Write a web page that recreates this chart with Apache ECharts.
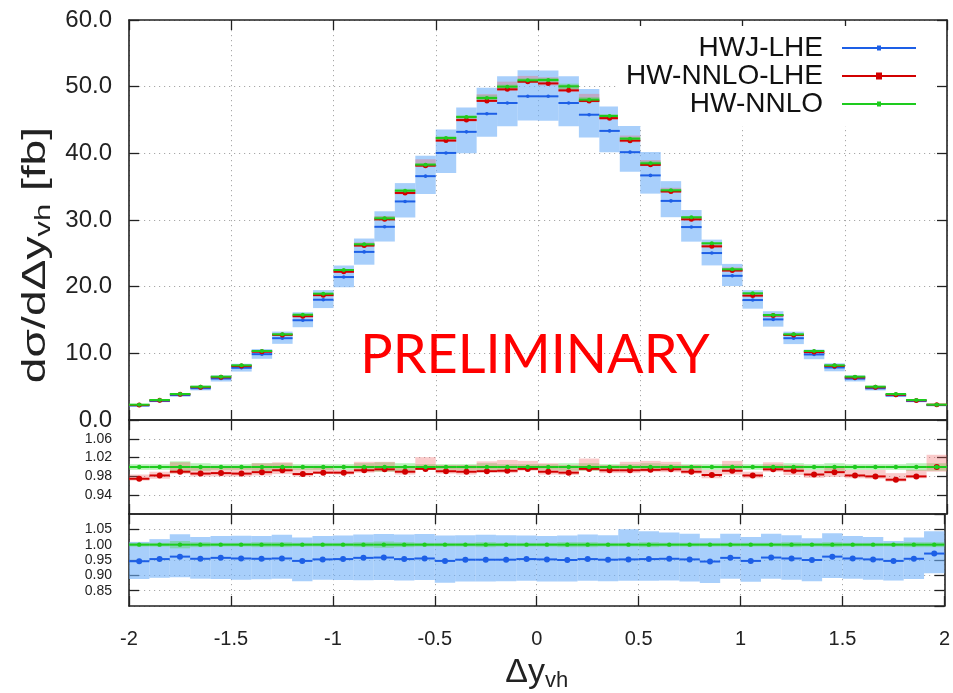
<!DOCTYPE html>
<html><head><meta charset="utf-8">
<script src="https://cdn.jsdelivr.net/npm/echarts@6/dist/echarts.min.js"></script>
<style>html,body{margin:0;padding:0;background:#fff}#c{width:953px;height:693px}</style>
</head><body><div id="c"></div>
<script>
// ---- data ----
const binLow  = [-2.0,-1.9,-1.8,-1.7,-1.6,-1.5,-1.4,-1.3,-1.2,-1.1,-1.0,-0.9,-0.8,-0.7,-0.6,-0.5,-0.4,-0.3,-0.2,-0.1,
                  0.0, 0.1, 0.2, 0.3, 0.4, 0.5, 0.6, 0.7, 0.8, 0.9, 1.0, 1.1, 1.2, 1.3, 1.4, 1.5, 1.6, 1.7, 1.8, 1.9];
const binHigh = [-1.9,-1.8,-1.7,-1.6,-1.5,-1.4,-1.3,-1.2,-1.1,-1.0,-0.9,-0.8,-0.7,-0.6,-0.5,-0.4,-0.3,-0.2,-0.1, 0.0,
                  0.1, 0.2, 0.3, 0.4, 0.5, 0.6, 0.7, 0.8, 0.9, 1.0, 1.1, 1.2, 1.3, 1.4, 1.5, 1.6, 1.7, 1.8, 1.9, 2.0];
// HW-NNLO  dσ/dΔy [fb]
const hwNnlo = [2.3,3.0,3.9,5.0,6.5,8.2,10.35,12.85,15.8,18.95,22.5,26.35,30.25,34.4,38.3,42.3,45.45,48.3,50.0,50.95,
                51.0,50.05,48.05,45.6,42.2,38.5,34.45,30.4,26.5,22.6,19.0,15.75,12.85,10.35,8.2,6.5,5.0,3.9,3.0,2.3];
// HW-NNLO-LHE / HW-NNLO
const ratioNnloLhe = [0.975,0.982,0.990,0.986,0.987,0.986,0.989,0.993,0.985,0.988,0.988,0.993,0.995,0.990,0.996,0.991,0.990,0.991,0.992,0.996,
                      0.990,0.988,0.996,0.993,0.993,0.994,0.995,0.990,0.983,0.992,0.982,0.995,0.992,0.984,0.989,0.982,0.980,0.973,0.980,1.000];
const nnloLheBandLo = [0.971,0.975,0.985,0.980,0.980,0.980,0.982,0.985,0.980,0.985,0.984,0.988,0.990,0.984,0.996,0.986,0.984,0.989,0.987,0.992,
                       0.984,0.983,0.992,0.987,0.987,0.989,0.989,0.985,0.976,0.984,0.976,0.990,0.983,0.977,0.979,0.976,0.975,0.969,0.976,0.990];
const nnloLheBandHi = [0.984,0.990,1.010,1.000,1.000,1.000,1.008,1.010,0.997,1.001,0.994,1.011,1.011,1.000,1.021,1.004,1.004,1.012,1.015,1.013,
                       1.008,1.004,1.018,1.004,1.011,1.013,1.011,1.004,0.994,1.013,0.990,1.010,1.004,0.994,1.001,0.994,0.994,0.987,0.994,1.026];
// HWJ-LHE / HW-NNLO
const ratioHwjLhe = [0.946,0.953,0.961,0.954,0.957,0.955,0.954,0.955,0.947,0.952,0.953,0.957,0.958,0.953,0.955,0.947,0.951,0.951,0.951,0.953,
                     0.952,0.950,0.953,0.951,0.952,0.953,0.954,0.952,0.945,0.957,0.947,0.958,0.955,0.950,0.961,0.955,0.952,0.947,0.954,0.971];
const hwjBandLo = [0.888,0.892,0.894,0.889,0.888,0.886,0.887,0.889,0.881,0.886,0.885,0.884,0.885,0.883,0.885,0.876,0.880,0.880,0.881,0.882,
                   0.880,0.880,0.882,0.881,0.882,0.882,0.883,0.880,0.875,0.889,0.879,0.889,0.886,0.881,0.891,0.889,0.886,0.883,0.888,0.907];
const hwjBandHi = [1.009,1.018,1.034,1.025,1.028,1.029,1.028,1.032,1.023,1.028,1.030,1.033,1.035,1.033,1.035,1.030,1.031,1.032,1.031,1.030,
                   1.028,1.030,1.033,1.031,1.050,1.044,1.040,1.036,1.021,1.036,1.025,1.036,1.031,1.021,1.037,1.028,1.025,1.012,1.023,1.044];
// HW-NNLO relative band half width
const nnloBandHalf = [0.006,0.006,0.012,0.008,0.006,0.006,0.008,0.008,0.006,0.006,0.006,0.008,0.010,0.008,0.006,0.006,0.006,0.008,0.006,0.006,
                      0.006,0.008,0.008,0.006,0.006,0.008,0.006,0.006,0.006,0.006,0.006,0.006,0.008,0.006,0.008,0.006,0.006,0.006,0.008,0.008];
const ratio1Ticks = [0.94, 0.98, 1.02, 1.06];

// ---- styles ----
const FONT = 'Liberation Sans, Arial, Helvetica, sans-serif';
const C_BLUE = '#1d5fe6', C_RED = '#d20000', C_GREEN = '#1ecb1e';
const B_BLUE = 'rgba(110,175,248,0.6)', B_RED = 'rgba(238,90,90,0.32)', B_GREEN = 'rgba(70,215,70,0.38)';
const AX = '#222';

const idx = binLow.map((_, i) => i);
const mainLine = (r) => idx.map(i => [binLow[i], binHigh[i], hwNnlo[i] * r(i)]);
const mainBand = (lo, hi) => idx.map(i => [binLow[i], binHigh[i], hwNnlo[i] * lo(i), hwNnlo[i] * hi(i)]);
const ratLine = (r) => idx.map(i => [binLow[i], binHigh[i], r(i)]);
const ratBand = (lo, hi) => idx.map(i => [binLow[i], binHigh[i], lo(i), hi(i)]);

function bandSeries(ax, data, color) {
  return {
    type: 'custom', xAxisIndex: ax * 2, yAxisIndex: ax * 2, data, silent: true, z: 2,
    encode: { x: [0, 1], y: [2, 3] },
    renderItem: (p, api) => {
      const a = api.coord([api.value(0), api.value(3)]);
      const b = api.coord([api.value(1), api.value(2)]);
      return { type: 'rect', shape: { x: a[0], y: a[1], width: b[0] - a[0], height: b[1] - a[1] }, style: { fill: color } };
    }
  };
}
function lineSeries(name, ax, data, color, r, lw) {
  return {
    type: 'custom', name, xAxisIndex: ax * 2, yAxisIndex: ax * 2, data, silent: true, z: 3,
    itemStyle: { color },
    encode: { x: [0, 1], y: 2 },
    renderItem: (p, api) => {
      const a = api.coord([api.value(0), api.value(2)]);
      const b = api.coord([api.value(1), api.value(2)]);
      return { type: 'group', children: [
        { type: 'line', shape: { x1: a[0], y1: a[1], x2: b[0], y2: b[1] }, style: { stroke: color, lineWidth: lw } },
        { type: 'circle', shape: { cx: (a[0] + b[0]) / 2, cy: a[1], r }, style: { fill: color } }
      ] };
    }
  };
}

const tick = { show: true, inside: true, length: 10, lineStyle: { color: AX, width: 1.3 } };
const axLine = { show: true, onZero: false, lineStyle: { color: AX, width: 1.6 } };
const dotted = { show: true, lineStyle: { color: '#a8a8a8', width: 1, type: [1.2, 3.8] } };

const grids = [
  { left: 129, top: 20, width: 818, height: 400 },
  { left: 129, top: 420, width: 818, height: 94 },
  { left: 129, top: 514, width: 818, height: 94 }
];
const xAxes = [], yAxes = [];
const yRanges = [
  { min: 0, max: 60, interval: 10, fmt: v => v.toFixed(1), fs: 24 },
  { min: 0.9, max: 1.1, custom: ratio1Ticks, fmt: v => v.toFixed(2), fs: 14 },
  { min: 0.8, max: 1.1, interval: 0.05, fmt: v => v.toFixed(2), fs: 14, hideEnds: true }
];
for (let g = 0; g < 3; g++) {
  const isBottom = g === 2;
  xAxes.push({
    type: 'value', gridIndex: g, min: -2, max: 2, interval: 0.5, position: 'bottom',
    axisLine: axLine, axisTick: tick, splitLine: dotted,
    axisLabel: { show: isBottom, fontSize: 20, color: AX, fontFamily: FONT, margin: 23 },
    name: isBottom ? '{m|Δy}{s|vh}' : '', nameLocation: 'middle', nameGap: 48,
    nameTextStyle: { color: AX, rich: {
      m: { fontSize: 34, fontFamily: FONT, color: AX },
      s: { fontSize: 22, fontFamily: FONT, color: AX, padding: [16, 0, 0, 0] } } }
  });
  xAxes.push({
    type: 'value', gridIndex: g, min: -2, max: 2, interval: 0.5, position: 'top',
    axisLine: axLine, axisTick: tick, splitLine: { show: false }, axisLabel: { show: false }
  });
  const yr = yRanges[g];
  const tk = Object.assign({}, tick);
  const lbl = { show: true, fontSize: yr.fs, color: AX, fontFamily: FONT, margin: 17, formatter: yr.fmt };
  if (yr.custom) { tk.customValues = yr.custom; lbl.customValues = yr.custom; }
  if (yr.hideEnds) { lbl.showMinLabel = false; lbl.showMaxLabel = false; }
  const base = { type: 'value', gridIndex: g, min: yr.min, max: yr.max };
  if (yr.interval) base.interval = yr.interval;
  yAxes.push(Object.assign({}, base, { position: 'left', axisLine: axLine, axisTick: tk, splitLine: dotted, axisLabel: lbl }));
  yAxes.push(Object.assign({}, base, { position: 'right', axisLine: axLine, axisTick: tk, splitLine: { show: false },
    axisLabel: Object.assign({}, lbl, { show: false }) }));
}

const one = (i) => hwNnlo[i] / hwNnlo[i];
const series = [
  // main panel
  bandSeries(0, mainBand(i => hwjBandLo[i], i => hwjBandHi[i]), B_BLUE),
  bandSeries(0, mainBand(i => nnloLheBandLo[i], i => nnloLheBandHi[i]), B_RED),
  bandSeries(0, mainBand(i => 1 - nnloBandHalf[i], i => 1 + nnloBandHalf[i]), B_GREEN),
  lineSeries('HWJ-LHE', 0, mainLine(i => ratioHwjLhe[i]), C_BLUE, 1.8, 2),
  lineSeries('HW-NNLO-LHE', 0, mainLine(i => ratioNnloLhe[i]), C_RED, 2.5, 2),
  lineSeries('HW-NNLO', 0, mainLine(one), C_GREEN, 2, 2),
  // ratio panel 1: NNLO-LHE / NNLO
  bandSeries(1, ratBand(i => 1 - nnloBandHalf[i], i => 1 + nnloBandHalf[i]), B_GREEN),
  bandSeries(1, ratBand(i => nnloLheBandLo[i], i => nnloLheBandHi[i]), B_RED),
  lineSeries('HW-NNLO-LHE', 1, ratLine(i => ratioNnloLhe[i]), C_RED, 3, 2),
  lineSeries('HW-NNLO', 1, ratLine(one), C_GREEN, 2.2, 2),
  // ratio panel 2: HWJ-LHE / NNLO
  bandSeries(2, ratBand(i => hwjBandLo[i], i => hwjBandHi[i]), B_BLUE),
  bandSeries(2, ratBand(i => 1 - nnloBandHalf[i], i => 1 + nnloBandHalf[i]), B_GREEN),
  lineSeries('HW-NNLO', 2, ratLine(one), C_GREEN, 2.2, 2),
  lineSeries('HWJ-LHE', 2, ratLine(i => ratioHwjLhe[i]), C_BLUE, 3, 2)
];

const iconSmall = 'path://M0,3L74,3L74,5L0,5Z M35,1.5L39,1.5L39,6.5L35,6.5Z M0,0L0.01,0L0.01,8L0,8Z';
const iconBig = 'path://M0,3L74,3L74,5L0,5Z M34,0.5L40,0.5L40,7.5L34,7.5Z M0,0L0.01,0L0.01,8L0,8Z';

const chart = echarts.init(document.getElementById('c'), null, { renderer: 'canvas' });
chart.setOption({
  animation: false,
  backgroundColor: '#fff',
  grid: grids,
  xAxis: xAxes,
  yAxis: yAxes,
  legend: {
    data: [{ name: 'HWJ-LHE', icon: iconSmall }, { name: 'HW-NNLO-LHE', icon: iconBig }, { name: 'HW-NNLO', icon: iconSmall }],
    orient: 'vertical', right: 18, top: 26, align: 'right', itemWidth: 74, itemHeight: 8, itemGap: 0,
    backgroundColor: '#fff', padding: [8, 19, 8, 8], selectedMode: false,
    textStyle: { fontSize: 28, color: '#111', fontFamily: FONT, lineHeight: 28, padding: [0, 14, 0, 0] }
  },
  graphic: [
    { type: 'text', x: 36, y: 255, rotation: Math.PI / 2, scaleX: 1.4, scaleY: 1, z: 10,
      style: { text: '{m|dσ/dΔy}{s|vh}{m| [fb]}', textAlign: 'center', textVerticalAlign: 'middle', fill: AX,
        rich: { m: { fontSize: 33, fontFamily: FONT, fill: AX }, s: { fontSize: 22, fontFamily: FONT, fill: AX, padding: [15, 0, 0, 0] } } } },
    { type: 'text', x: 535, y: 356, z: 10,
      style: { text: 'PRELIMINARY', textAlign: 'center', textVerticalAlign: 'middle', fill: '#ff0000',
        fontSize: 54, fontFamily: 'Lato, Open Sans, sans-serif' } }
  ],
  series
});
</script></body></html>
